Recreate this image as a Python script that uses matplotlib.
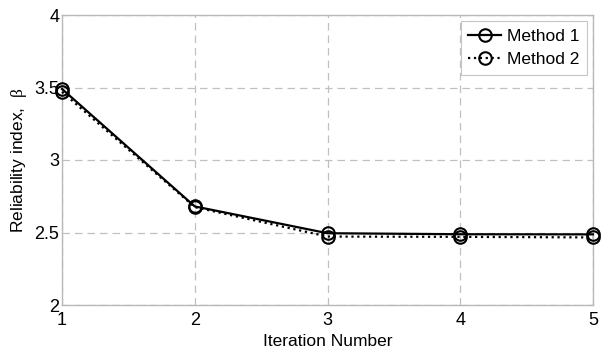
import matplotlib
matplotlib.use("Agg")
import matplotlib.pyplot as plt

iterations = [1, 2, 3, 4, 5]
method1 = [3.49, 2.68, 2.495, 2.488, 2.487]
method2 = [3.47, 2.675, 2.472, 2.47, 2.466]
xticks = [1, 2, 3, 4, 5]
yticks = [2, 2.5, 3, 3.5, 4]
ytick_labels = ["2", "2.5", "3", "3.5", "4"]

plt.rcParams['font.family'] = ['Liberation Sans', 'DejaVu Sans']
plt.rcParams['mathtext.fontset'] = 'custom'
plt.rcParams['mathtext.rm'] = 'Liberation Serif'
plt.rcParams['mathtext.it'] = 'Liberation Serif'

fig = plt.figure(figsize=(6.05, 3.51), dpi=100)
ax = fig.add_axes([62/605, 1 - 305/351, (593-62)/605, (305-15)/351])

ax.plot(iterations, method1, '-', color='black', lw=1.6, marker='o', ms=9,
        mfc='none', mec='black', mew=1.5, label='Method 1', clip_on=False, zorder=4)
ax.plot(iterations, method2, ':', color='black', lw=1.6, marker='o', ms=9,
        mfc='none', mec='black', mew=1.5, label='Method 2', clip_on=False, zorder=3)

ax.set_xlim(1, 5)
ax.set_ylim(2, 4)
ax.set_xticks(xticks)
ax.set_yticks(yticks)
ax.set_yticklabels(ytick_labels)
ax.tick_params(length=0, labelsize=13)
ax.tick_params(axis='x', pad=5)
ax.tick_params(axis='y', pad=2)
ax.grid(True, color='#c0c0c0', linestyle=(0, (6, 4)), lw=0.9)
for s in ax.spines.values():
    s.set_color('#b8b8b8')
    s.set_linewidth(1.0)

ax.set_xlabel('Iteration Number', fontsize=12.5, labelpad=4)
ax.set_ylabel(r'Reliability index,  $\mathrm{\beta}$', fontsize=12.5, labelpad=4)

leg = ax.legend(loc='upper right', fontsize=12.5, frameon=True, fancybox=False,
                edgecolor='#b8b8b8', handlelength=1.9, borderpad=0.45,
                labelspacing=0.45, handletextpad=0.3, borderaxespad=0.35)
leg.get_frame().set_linewidth(0.8)

fig.savefig('out.png', dpi=100)
